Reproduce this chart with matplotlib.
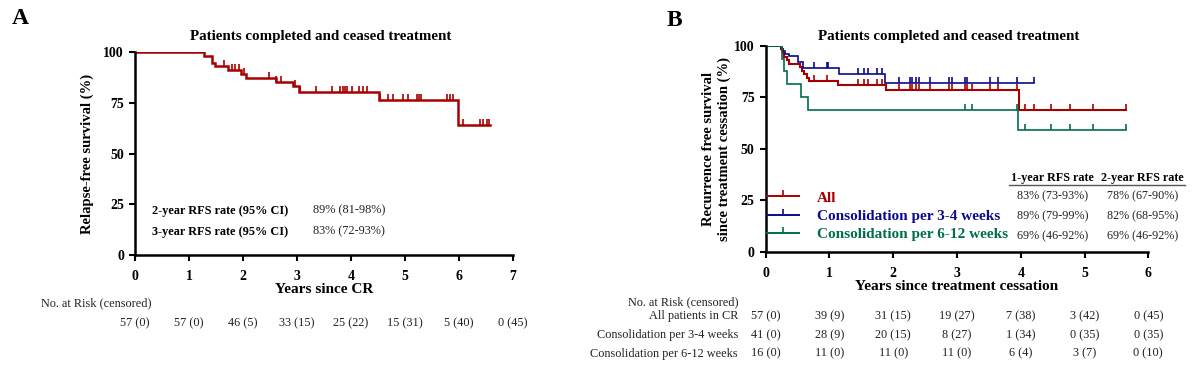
import matplotlib.pyplot as plt
import numpy as np
from matplotlib.lines import Line2D

plt.rcParams["font.family"] = ["Liberation Serif", "DejaVu Serif"]

# ---- panel A data ----
a_times = [1.27, 1.42, 1.49, 1.73, 1.96, 2.06, 2.61, 2.93, 3.04, 4.52, 5.99]
a_surv = [98.2, 94.7, 93.0, 91.3, 89.4, 87.4, 85.2, 83.3, 80.4, 76.4, 63.9]
a_end = 6.57
a_cens = [1.65, 1.80, 1.86, 1.93, 2.02, 2.48, 2.62, 2.70, 2.97, 3.06, 3.35,
          3.64, 3.80, 3.85, 3.89, 3.93, 4.02, 4.15, 4.23, 4.29, 4.54, 4.69,
          4.77, 4.96, 5.06, 5.23, 5.26, 5.29, 5.77, 5.83, 5.88, 6.07, 6.39,
          6.45, 6.51, 6.56]
a_risk = ["57 (0)", "57 (0)", "46 (5)", "33 (15)", "25 (22)", "15 (31)", "5 (40)", "0 (45)"]
a_rates = [("2-year RFS rate (95% CI)", "89% (81-98%)"),
           ("3-year RFS rate (95% CI)", "83% (72-93%)")]

# ---- panel B data ----
all_times = [0.24, 0.27, 0.29, 0.33, 0.36, 0.53, 0.57, 0.60, 0.64, 0.68, 1.14, 1.88, 3.97]
all_surv = [98.2, 96.5, 94.7, 93.0, 91.2, 89.5, 87.7, 86.0, 84.2, 83.0, 81.0, 78.5, 68.7]
all_end = 5.65
all_cens = [0.08, 0.21, 0.76, 0.96, 1.44, 1.54, 1.61, 1.74, 1.83, 2.09, 2.26,
            2.30, 2.35, 2.40, 2.58, 2.87, 2.92, 3.13, 3.16, 3.23, 3.51, 3.65,
            3.94, 4.06, 4.20, 4.47, 4.77, 5.13, 5.65]

c34_times = [0.25, 0.31, 0.36, 0.50, 0.59, 1.15, 1.87]
c34_surv = [97.6, 96.0, 94.8, 92.2, 89.0, 86.1, 82.0]
c34_end = 4.20
c34_cens = [0.76, 0.96, 0.97, 1.44, 1.54, 1.61, 1.74, 1.83, 2.09, 2.26, 2.30,
            2.35, 2.40, 2.58, 2.87, 2.92, 3.13, 3.16, 3.51, 3.65, 3.94, 4.20]

c612_times = [0.25, 0.29, 0.33, 0.56, 0.67, 3.96]
c612_surv = [93.75, 87.5, 81.25, 75.0, 68.75, 58.9]
c612_end = 5.65
c612_cens = [3.13, 3.23, 3.94, 4.06, 4.47, 4.77, 5.13, 5.65]

b_labels = ["All", "Consolidation per 3-4 weeks", "Consolidation per 6-12 weeks"]
b_colors = ["#a80000", "#0a0a8c", "#006e48"]
b_rate_1y = ["83% (73-93%)", "89% (79-99%)", "69% (46-92%)"]
b_rate_2y = ["78% (67-90%)", "82% (68-95%)", "69% (46-92%)"]
b_risk_rows = ["All patients in CR", "Consolidation per 3-4 weeks", "Consolidation per 6-12 weeks"]
b_risk = [["57 (0)", "39 (9)", "31 (15)", "19 (27)", "7 (38)", "3 (42)", "0 (45)"],
          ["41 (0)", "28 (9)", "20 (15)", "8 (27)", "1 (34)", "0 (35)", "0 (35)"],
          ["16 (0)", "11 (0)", "11 (0)", "11 (0)", "6 (4)", "3 (7)", "0 (10)"]]


def km(ax, times, surv, end, cens, color, lw):
    x = [0] + times + [end]
    y = [100] + surv + [surv[-1]]
    ax.step(x, y, where="post", color=color, lw=lw, solid_joinstyle="miter")
    levels = np.array([100] + surv)
    cy = levels[np.searchsorted(times, cens, side="right")]
    ax.plot(cens, cy, ls="", marker=2, ms=4, mew=1.2, color=color)


def style(ax, xmax):
    for s in ["top", "right"]:
        ax.spines[s].set_visible(False)
    for s in ["left", "bottom"]:
        ax.spines[s].set_linewidth(1.8)
    ax.set_xlim(0, xmax)
    ax.set_ylim(0, 100)
    ax.set_xticks(range(xmax + 1))
    ax.set_yticks([0, 25, 50, 75, 100])
    ax.tick_params(length=4, width=1.5, pad=4, labelsize=10)
    ax.tick_params(axis="x", pad=7)
    for t in ax.get_xticklabels() + ax.get_yticklabels():
        t.set_fontweight("bold")


fig = plt.figure(figsize=(12, 3.69), dpi=100)

# ---------------- A ----------------
axA = fig.add_axes([0.1125, 0.3089, 0.315, 0.5502])
km(axA, a_times, a_surv, a_end, a_cens, "#a80000", 1.8)
style(axA, 7)
axA.text(0.49, 1.075, "Patients completed and ceased treatment", transform=axA.transAxes,
         ha="center", va="center", fontsize=10.8, fontweight="bold")
axA.text(0.5, -0.172, "Years since CR", transform=axA.transAxes,
         ha="center", va="center", fontsize=11, fontweight="bold")
axA.set_ylabel("Relapse-free survival (%)", fontsize=10.5, fontweight="bold")
axA.yaxis.set_label_coords(-0.108, 0.5)
for (lab, val), yy in zip(a_rates, [0.218, 0.115]):
    axA.text(0.045, yy, lab, transform=axA.transAxes, ha="left", va="center",
             fontsize=8.8, fontweight="bold")
    axA.text(0.470, yy, val, transform=axA.transAxes, ha="left", va="center",
             fontsize=8.8, color="#222222")
fig.text(41 / 1200, 1 - 303 / 369, "No. at Risk (censored)", ha="left", va="center",
         fontsize=8.8, color="#222222")
for i, s in enumerate(a_risk):
    axA.text(i, -0.335, s, transform=axA.get_xaxis_transform(), ha="center",
             va="center", fontsize=8.8, color="#222222")
fig.text(20 / 1200, 1 - 18 / 369, "A", ha="center", va="center", fontsize=17, fontweight="bold")

# ---------------- B ----------------
axB = fig.add_axes([0.6381, 0.3184, 0.3188, 0.5578])
km(axB, all_times, all_surv, all_end, all_cens, b_colors[0], 1.5)
km(axB, c34_times, c34_surv, c34_end, c34_cens, b_colors[1], 1.2)
km(axB, c612_times, c612_surv, c612_end, c612_cens, b_colors[2], 1.2)
style(axB, 6)
axB.text(0.478, 1.047, "Patients completed and ceased treatment", transform=axB.transAxes,
         ha="center", va="center", fontsize=10.8, fontweight="bold")
axB.text(0.5, -0.171, "Years since treatment cessation", transform=axB.transAxes,
         ha="center", va="center", fontsize=11, fontweight="bold")
axB.set_ylabel("Recurrence free survival\nsince treatment cessation (%)", fontsize=10.5,
               fontweight="bold", linespacing=1.25)
axB.yaxis.set_label_coords(-0.091, 0.5)

handles = [Line2D([], [], color=c, lw=1.4, marker=2, ms=4, mew=1.2) for c in b_colors]
leg = axB.legend(handles, b_labels, loc="center left", bbox_to_anchor=(0.003, 0.172),
                 frameon=False, handlelength=2.1, handletextpad=1.15, labelspacing=0.3,
                 borderpad=0, borderaxespad=0, numpoints=1,
                 prop={"family": "Liberation Serif", "weight": "bold", "size": 11})
for t, c in zip(leg.get_texts(), b_colors):
    t.set_color(c)

axB.text(0.750, 0.356, "1-year RFS rate", transform=axB.transAxes, ha="center",
         va="center", fontsize=8.7, fontweight="bold")
axB.text(0.985, 0.356, "2-year RFS rate", transform=axB.transAxes, ha="center",
         va="center", fontsize=8.7, fontweight="bold")
axB.plot([0.636, 1.096], [0.323, 0.323], transform=axB.transAxes, color="#555555",
         lw=1.0, clip_on=False)
for r1, r2, yy in zip(b_rate_1y, b_rate_2y, [0.270, 0.169, 0.072]):
    axB.text(0.750, yy, r1, transform=axB.transAxes, ha="center", va="center",
             fontsize=8.7, color="#222222")
    axB.text(0.985, yy, r2, transform=axB.transAxes, ha="center", va="center",
             fontsize=8.7, color="#222222")

fig.text(738 / 1200, 1 - 302.7 / 369, "No. at Risk (censored)", ha="right", va="center",
         fontsize=8.8, color="#222222")
for row, vals, yy in zip(b_risk_rows, b_risk, [316, 335, 353.7]):
    fig.text(738 / 1200, 1 - yy / 369, row, ha="right", va="center", fontsize=8.8,
             color="#222222")
    for i, s in enumerate(vals):
        axB.text(i, (251.5 - yy) / 205.8, s, transform=axB.get_xaxis_transform(),
                 ha="center", va="center", fontsize=8.8, color="#222222")
fig.text(674 / 1200, 1 - 20 / 369, "B", ha="center", va="center", fontsize=17, fontweight="bold")

fig.savefig("out.png", dpi=100)
